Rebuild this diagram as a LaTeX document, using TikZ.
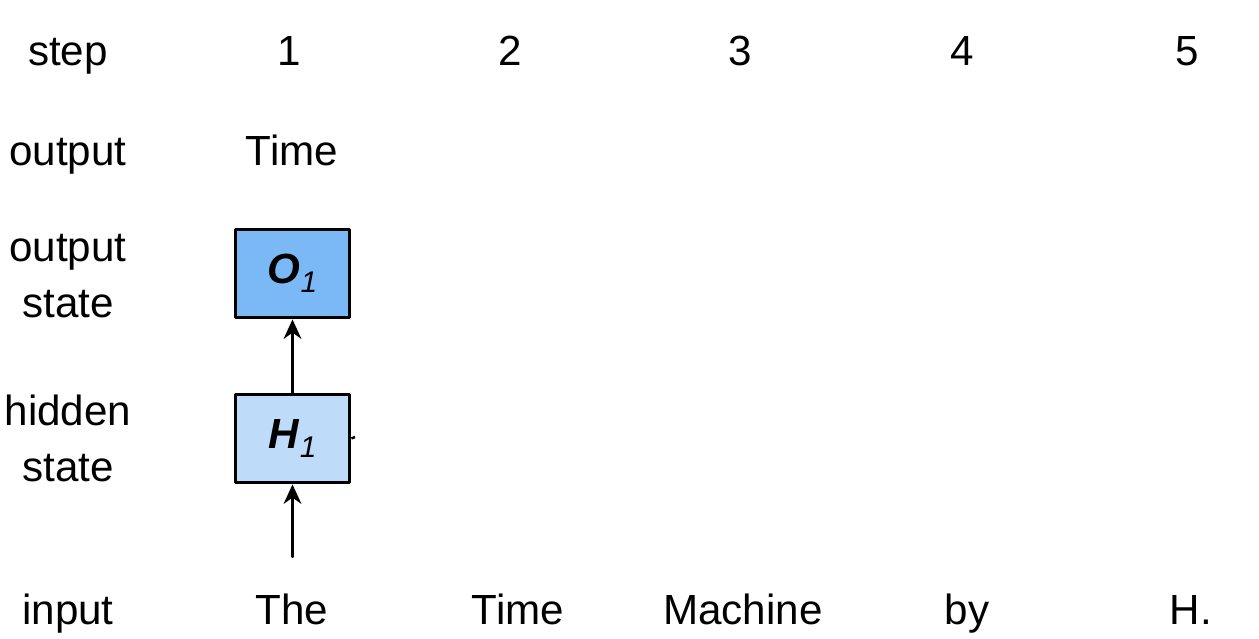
\documentclass[tikz,border=0pt]{standalone}
\usepackage{fontspec}
\setmainfont{Liberation Sans}
\usetikzlibrary{arrows.meta}
\definecolor{outblue}{RGB}{122,185,245}
\definecolor{hidblue}{RGB}{190,220,250}
\newcommand{\cellsub}[1]{\raisebox{-5pt}{\fontsize{17}{19}\selectfont\textit{#1}}}
\tikzset{
	txt/.style={anchor=base, inner sep=0pt},
	cell/.style={draw=black, line width=2.2pt, minimum width=2.28cm, minimum height=1.76cm, inner sep=0pt},
	conn/.style={line width=2.2pt, -{Stealth[length=11pt, width=10pt, inset=3.5pt]}}
}
\begin{document}
\begin{tikzpicture}[x=0.02cm, y=-0.02cm, font=\fontsize{24}{28}\selectfont, line join=round, line cap=round]
	\useasboundingbox (0,0) rectangle (1259,639);
	% row labels
	\path
	(68,65) node[txt] (lstep) {step}
	(68,165) node[txt] (lout) {output}
	(68,261) node[txt] (lostate1) {output}
	(68,317) node[txt] (lostate2) {state}
	(68,425) node[txt] (lhid1) {hidden}
	(68,481) node[txt] (lhid2) {state}
	(68,624) node[txt] (lin) {input};
	% steps
	\foreach \x/\n in {289/1, 510/2, 740/3, 962/4, 1187/5}{\node[txt] (s\n) at (\x,65) {\n};}
	% inputs
	\foreach \x/\n/\w in {292/1/The, 518/2/Time, 743/3/Machine, 967/4/by, 1191/5/H.}{\node[txt] (in\n) at (\x,624) {\w};}
	\node[txt] (out1) at (292,165) {Time};
	% cells
	\node[cell, fill=outblue] (O1) at (292.5,273.5) {\textbf{\textit{O}}\cellsub{1}};
	\node[cell, fill=hidblue] (H1) at (292.5,438.5) {\textbf{\textit{H}}\cellsub{1}};
	\coordinate (x1) at (292.5,556);
	\coordinate (h1e) at (355,437);
	\draw[conn] (H1.north) -- (O1.south);
	\draw[conn] (x1) -- (H1.south);
	\draw[line width=1.4pt, line cap=butt] (H1.east) -- (h1e);
\end{tikzpicture}
\end{document}
